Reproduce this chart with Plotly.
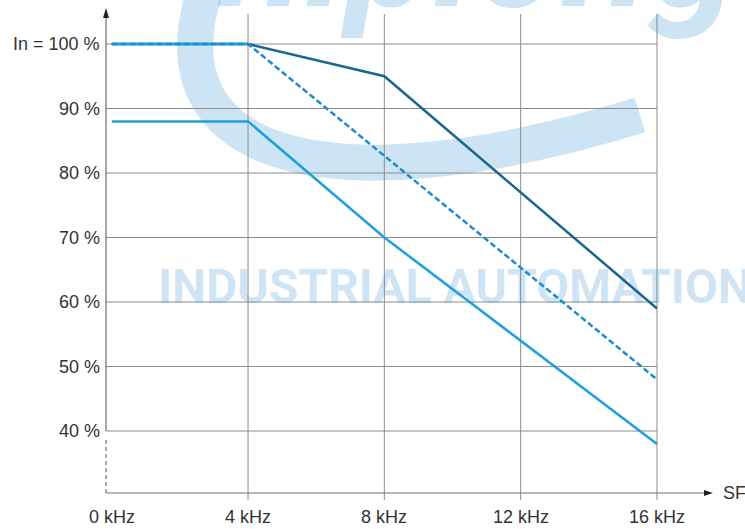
import plotly.graph_objects as go

# --- data -------------------------------------------------------------
freq_khz = [0, 4, 8, 12, 16]
freq_labels = ["0 kHz", "4 kHz", "8 kHz", "12 kHz", "16 kHz"]
pct_ticks = [40, 50, 60, 70, 80, 90, 100]
pct_labels = ["40 %", "50 %", "60 %", "70 %", "80 %", "90 %", "In = 100 %"]

curve_dark_x = [0, 4, 8, 16]
curve_dark_y = [100, 100, 95, 59]
curve_dashed_x = [0, 4, 16]
curve_dashed_y = [100, 100, 48]
curve_light_x = [0, 4, 8, 16]
curve_light_y = [88, 88, 70, 38]

# --- geometry of the drawing (pixels <-> data) --------------------------
W, H = 745, 529
X0_PX, PX_PER_KHZ = 111.7, 34.08
Y100_PX, PX_PER_PCT = 44, 6.45
x_range = [-X0_PX / PX_PER_KHZ, (W - X0_PX) / PX_PER_KHZ]
y_range = [100 - (H - Y100_PX) / PX_PER_PCT, 100 + Y100_PX / PX_PER_PCT]


def px_x(px):
    return (px - X0_PX) / PX_PER_KHZ


def px_y(py):
    return 100 - (py - Y100_PX) / PX_PER_PCT


AXIS_X = px_x(106)
AXIS_Y = px_y(493)
FONT = "Liberation Sans, Arial, sans-serif"
FS = 18
TEXT_COLOR = "#333333"
GRID_COLOR = "#8c8c8c"
AXIS_COLOR = "#707070"
DARK = "#1a668c"
LIGHT = "#1fa0dc"
DASHED = "#1d8cc8"
WM = "rgba(40,140,210,0.23)"

fig = go.Figure()

# background watermark text
fig.add_trace(go.Scatter(
    x=[px_x(158)], y=[px_y(291)], mode="text",
    text=["INDUSTRIAL AUTOMATION"], textposition="middle right",
    textfont=dict(family="Roboto, sans-serif", size=48, color=WM, weight="bold"),
    hoverinfo="skip", showlegend=False))
fig.add_trace(go.Scatter(
    x=[px_x(218)], y=[px_y(-34)], mode="text",
    text=["hiplong"], textposition="middle right",
    textfont=dict(family="Roboto, sans-serif", size=160, color=WM,
                  weight="bold", style="italic"),
    hoverinfo="skip", showlegend=False))

shapes = []


def P(px, py):
    return f"{px_x(px):.4f},{px_y(py):.4f}"


# swoosh of the watermark logo
swoosh = f"M{P(205,-10)} C{P(150,160)} {P(330,210)} {P(640,115)}"
shapes.append(dict(type="path", path=swoosh, layer="below",
                   line=dict(color=WM, width=36)))

# horizontal grid lines
for v in pct_ticks:
    shapes.append(dict(type="line", x0=AXIS_X, x1=freq_khz[-1], y0=v, y1=v,
                       layer="below", line=dict(color=GRID_COLOR, width=1)))
# vertical grid lines
for f in freq_khz[1:]:
    shapes.append(dict(type="line", x0=f, x1=f, y0=px_y(500), y1=px_y(14),
                       layer="below", line=dict(color=GRID_COLOR, width=1)))

# axes
shapes.append(dict(type="line", x0=AXIS_X, x1=px_x(708), y0=AXIS_Y, y1=AXIS_Y,
                   line=dict(color=AXIS_COLOR, width=1.2)))
shapes.append(dict(type="line", x0=AXIS_X, x1=AXIS_X, y0=40, y1=px_y(14),
                   line=dict(color=AXIS_COLOR, width=1.2)))
shapes.append(dict(type="line", x0=AXIS_X, x1=AXIS_X, y0=AXIS_Y, y1=px_y(437),
                   line=dict(color=AXIS_COLOR, width=1.2, dash="4px,3px")))
# arrow heads
shapes.append(dict(type="path",
                   path=f"M{P(713,493)} L{P(704,490)} L{P(704,496)} Z",
                   fillcolor="#222222", line=dict(width=0)))
shapes.append(dict(type="path",
                   path=f"M{P(106,8)} L{P(103,18)} L{P(109,18)} Z",
                   fillcolor="#222222", line=dict(width=0)))

# derating curves
fig.add_trace(go.Scatter(x=[0, 4], y=[100, 100], mode="lines",
                         line=dict(color=LIGHT, width=3), hoverinfo="skip",
                         showlegend=False))
fig.add_trace(go.Scatter(x=curve_light_x, y=curve_light_y, mode="lines",
                         line=dict(color=LIGHT, width=2.5), showlegend=False))
fig.add_trace(go.Scatter(x=curve_dark_x[1:], y=curve_dark_y[1:], mode="lines",
                         line=dict(color=DARK, width=2.5), showlegend=False))
fig.add_trace(go.Scatter(x=curve_dashed_x, y=curve_dashed_y, mode="lines",
                         line=dict(color=DASHED, width=2.5, dash="6px,3px"),
                         showlegend=False))

annotations = []
for v, lab in zip(pct_ticks, pct_labels):
    annotations.append(dict(x=AXIS_X, y=v, text=lab, showarrow=False,
                            xanchor="right", yanchor="middle", xshift=-4,
                            font=dict(family=FONT, size=FS, color=TEXT_COLOR)))
for f, lab in zip(freq_khz, freq_labels):
    annotations.append(dict(x=f, y=AXIS_Y, text=lab, showarrow=False,
                            xanchor="center", yanchor="top", yshift=-12,
                            font=dict(family=FONT, size=FS, color=TEXT_COLOR)))
annotations.append(dict(x=px_x(721), y=AXIS_Y, text="SF", showarrow=False,
                        xanchor="left", yanchor="middle",
                        font=dict(family=FONT, size=FS, color=TEXT_COLOR)))

fig.update_layout(
    width=W, height=H, margin=dict(l=0, r=0, t=0, b=0),
    paper_bgcolor="white", plot_bgcolor="white",
    xaxis=dict(range=x_range, visible=False, fixedrange=True),
    yaxis=dict(range=y_range, visible=False, fixedrange=True),
    shapes=shapes, annotations=annotations,
)

fig.write_html("out.html")
